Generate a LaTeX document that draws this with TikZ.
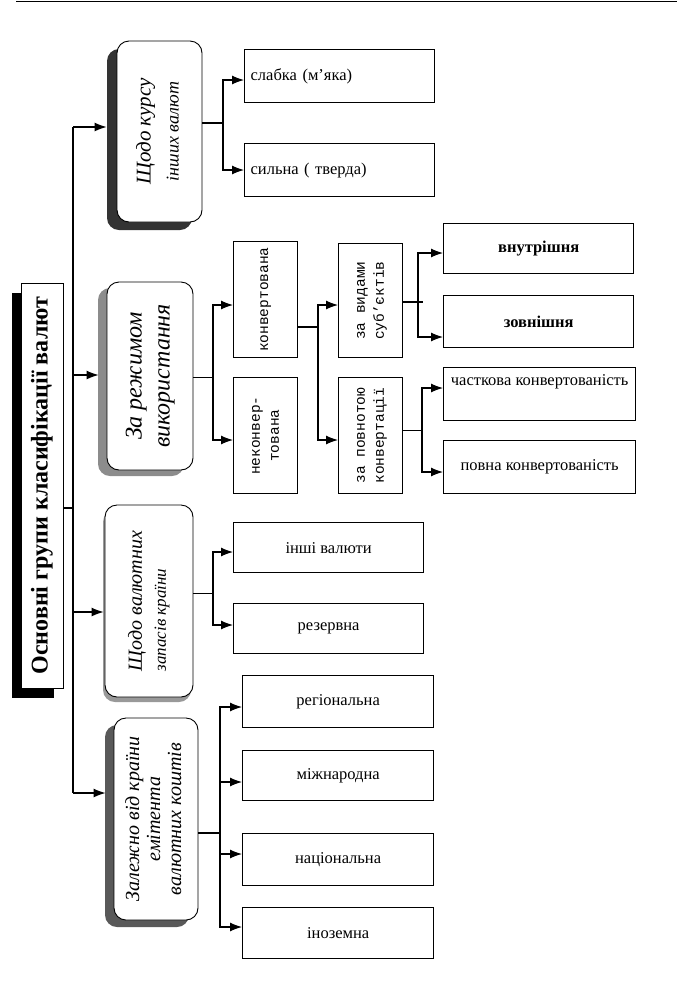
\documentclass[tikz,border=0pt]{standalone}
\usepackage{fontspec}
\setmainfont{Liberation Serif}
\newfontfamily\monof{Liberation Mono}
\usepackage{graphicx}
\usetikzlibrary{arrows.meta,shadows}
\newcommand{\rotc}[1]{\rotatebox{90}{\begin{tabular}{@{}c@{}}#1\end{tabular}}}
\newcommand{\rotl}[1]{\rotatebox{90}{\begin{tabular}{@{}l@{}}#1\end{tabular}}}
\newcommand{\fs}[2]{\fontsize{#1}{#2}\selectfont}
\tikzset{
  conn/.style={line width=1.1pt},
  thin conn/.style={line width=0.6pt},
  arr/.style={line width=1.1pt,-{Latex[length=12pt,width=9pt]}},
  leaf/.style={draw,line width=1.3pt,inner sep=0pt,anchor=north west,font=\fs{16.5}{19}},
  rleaf/.style={draw,line width=1.3pt,inner sep=0pt,anchor=north west,font=\monof\fs{14.5}{19}},
  cat/.style={draw,fill=white,rounded corners=12pt,line width=0.9pt,inner sep=0pt},
  mainbox/.style={draw,fill=white,line width=1pt,inner sep=0pt,
    general shadow={fill=black,shadow xshift=-9pt,shadow yshift=-10pt}},
}
\begin{document}
\begin{tikzpicture}[x=1pt,y=-1pt]
\useasboundingbox (0,0) rectangle (677,986);
\draw[line width=1.4pt] (16,1.5) -- (677,1.5);

% main box
\node[mainbox,minimum width=42pt,minimum height=405pt] (main) at (42,485.5)
  {\rotatebox{90}{\fs{24}{28}\bfseries Основні групи класифікації валют}};

% category boxes
\node[cat,minimum width=85pt,minimum height=181pt,font=\fs{21}{25}\itshape,
  general shadow={fill=black!80,shadow xshift=-10pt,shadow yshift=-8pt}] (box1) at (159.5,131.5)
  {\rotc{Щодо курсу\\[3pt] \fs{18}{20}інших валют}};
\node[cat,minimum width=86pt,minimum height=188pt,font=\fs{24}{28}\itshape,
  general shadow={fill=black!45,shadow xshift=-9pt,shadow yshift=-6pt}] (box2) at (150,376)
  {\rotc{За режимом\\використання}};
\node[cat,minimum width=88pt,minimum height=192pt,font=\fs{20}{24}\itshape,
  general shadow={fill=black!40,shadow xshift=-2pt,shadow yshift=-5pt}] (box3) at (149,601)
  {\rotl{Щодо валютних\\ \fs{17}{20}запасів країни}};
\node[cat,minimum width=84pt,minimum height=202pt,font=\fs{20}{21}\itshape,
  general shadow={fill=black!65,shadow xshift=-9pt,shadow yshift=-7pt}] (box4) at (156,819)
  {\rotc{Залежно від країни\\емітента\\валютних коштів}};

% leaf boxes
\node[leaf,minimum width=190pt,minimum height=53pt,text width=178pt,align=left] (slabka) at (244,49) {слабка (м’яка)};
\node[leaf,minimum width=190pt,minimum height=53pt,text width=178pt,align=left] (sylna) at (244,143) {сильна ( тверда)};

\node[rleaf,minimum width=64pt,minimum height=116pt] (konv) at (233,241) {\rotatebox{90}{конвертована}};
\node[rleaf,minimum width=64pt,minimum height=116pt] (nekonv) at (233,377) {\rotc{неконвер-\\тована}};
\node[rleaf,minimum width=64pt,minimum height=114pt] (vydy) at (338,243) {\rotc{за видами\\суб’єктів}};
\node[rleaf,minimum width=64pt,minimum height=116pt] (povn) at (338,377) {\rotc{за повнотою\\конвертації}};

\node[leaf,minimum width=190pt,minimum height=50pt,font=\fs{16.5}{19}\bfseries] (vnutr) at (443,223) {внутрішня};
\node[leaf,minimum width=190pt,minimum height=52pt,font=\fs{16.5}{19}\bfseries] (zovn) at (443,295) {зовнішня};
\node[leaf,minimum width=192pt,minimum height=53pt,
  label={[anchor=north,yshift=-7pt,inner sep=0pt,font=\fs{16.5}{19}]north:часткова конвертованість}] (chast) at (443,367) {};
\node[leaf,minimum width=192pt,minimum height=53pt] (povna) at (443,440) {повна конвертованість};

\node[leaf,minimum width=190pt,minimum height=50pt] (inshi) at (233,522) {інші валюти};
\node[leaf,minimum width=190pt,minimum height=50pt] (rezerv) at (233,603) {резервна};

\node[leaf,minimum width=191pt,minimum height=52pt] (reg) at (242,675) {регіональна};
\node[leaf,minimum width=191pt,minimum height=50pt] (mizh) at (242,750) {міжнародна};
\node[leaf,minimum width=191pt,minimum height=52pt] (nats) at (242,833) {національна};
\node[leaf,minimum width=191pt,minimum height=51pt] (inoz) at (242,907) {іноземна};

% trunk
\coordinate (tr1) at (73,127);
\coordinate (tr2) at (73,375);
\coordinate (tr3) at (73,612);
\coordinate (tr4) at (73,793);
\coordinate (trm) at (73,508);
\draw[conn] (tr1) -- (tr4);
\draw[conn] (main.east |- trm) -- (trm);
\draw[arr,shorten >=10pt] (tr1) -- (box1.west |- tr1);
\draw[arr,shorten >=8pt] (tr2) -- (box2.west |- tr2);
\draw[arr,shorten >=1pt] (tr3) -- (box3.west |- tr3);
\draw[arr,shorten >=8pt] (tr4) -- (box4.west |- tr4);

% box1 branch
\coordinate (j1) at (223,123);
\coordinate (a1) at (223,80);
\coordinate (b1) at (223,170);
\draw[conn] (box1.east |- j1) -- (j1);
\draw[arr] (j1) -- (a1) -- (slabka.west |- a1);
\draw[arr] (j1) -- (b1) -- (sylna.west |- b1);

% box2 branch
\coordinate (j2) at (213,377);
\coordinate (a2) at (213,305);
\coordinate (b2) at (213,440);
\draw[thin conn] (box2.east |- j2) -- (j2);
\draw[arr] (j2) -- (a2) -- (konv.west |- a2);
\draw[arr] (j2) -- (b2) -- (nekonv.west |- b2);

% konv branch
\coordinate (j3) at (318,327);
\coordinate (a3) at (318,305);
\coordinate (b3) at (318,440);
\draw[conn] (konv.east |- j3) -- (j3);
\draw[arr] (j3) -- (a3) -- (vydy.west |- a3);
\draw[arr] (j3) -- (b3) -- (povn.west |- b3);

% vydy branch
\coordinate (j4) at (418,302);
\coordinate (a4) at (418,253);
\coordinate (b4) at (418,337);
\draw[conn] (vydy.east |- j4) -- ++(20,0);
\draw[arr] (j4) -- (a4) -- (vnutr.west |- a4);
\draw[arr] (j4) -- (b4) -- (zovn.west |- b4);

% povn branch
\coordinate (j5) at (422,430);
\coordinate (a5) at (422,388);
\coordinate (b5) at (422,472);
\draw[thin conn] (povn.east |- j5) -- (j5);
\draw[arr] (j5) -- (a5) -- (chast.west |- a5);
\draw[arr] (j5) -- (b5) -- (povna.west |- b5);

% box3 branch
\coordinate (j6) at (213,593);
\coordinate (a6) at (213,552);
\coordinate (b6) at (213,625);
\draw[thin conn] (box3.east |- j6) -- (j6);
\draw[arr] (j6) -- (a6) -- (inshi.west |- a6);
\draw[arr] (j6) -- (b6) -- (rezerv.west |- b6);

% box4 branch
\coordinate (j7) at (220,833);
\coordinate (a7) at (220,707);
\coordinate (m7) at (220,782);
\coordinate (n7) at (220,854);
\coordinate (b7) at (220,927);
\draw[conn] (box4.east |- j7) -- (j7);
\draw[arr] (j7) -- (a7) -- (reg.west |- a7);
\draw[arr] (m7) -- (mizh.west |- m7);
\draw[arr] (n7) -- (nats.west |- n7);
\draw[arr] (j7) -- (b7) -- (inoz.west |- b7);
\end{tikzpicture}
\end{document}
